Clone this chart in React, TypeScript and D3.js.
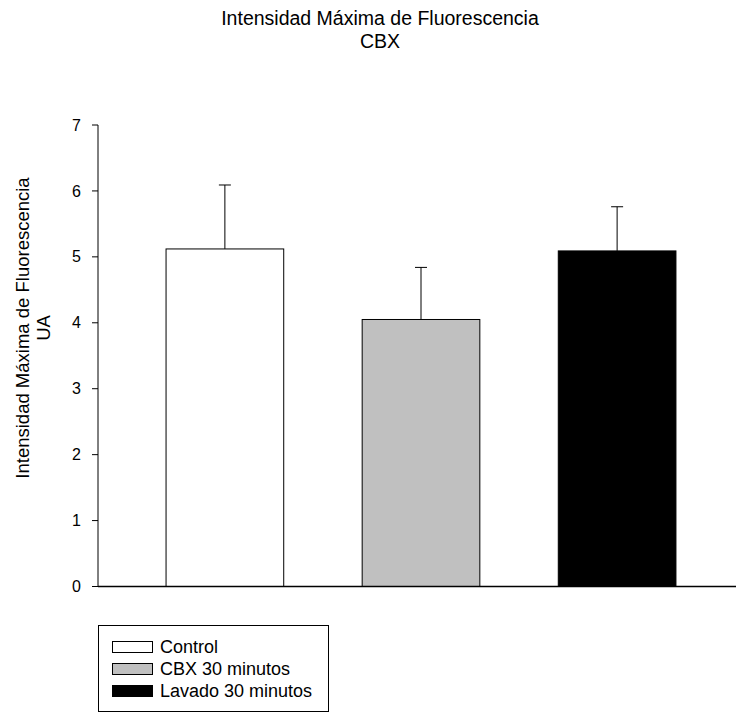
import * as d3 from "d3";

// ---------------------------------------------------------------------------
// Data
// ---------------------------------------------------------------------------

const CATEGORIES = ["Control", "CBX 30 minutos", "Lavado 30 minutos"];
const MEANS = [5.12, 4.05, 5.09];
const ERRORS = [0.97, 0.79, 0.67];
const FILLS = ["#ffffff", "#c0c0c0", "#000000"];
const Y_TICKS = [0, 1, 2, 3, 4, 5, 6, 7];

const TITLE = ["Intensidad Máxima de Fluorescencia", "CBX"];
const Y_LABEL = ["Intensidad Máxima de Fluorescencia", "UA"];

// ---------------------------------------------------------------------------
// Layout
// ---------------------------------------------------------------------------

const W = 736;
const H = 712;
const FONT = "'Liberation Sans', Arial, sans-serif";
const AXIS_X = 98;
const PLOT_RIGHT = 744; // axis runs off the page edge
const Y_TOP = 125;
const Y_BOTTOM = 586.5;

export default function App() {
  const x = d3
    .scaleBand<string>()
    .domain(CATEGORIES)
    .range([AXIS_X, PLOT_RIGHT])
    .paddingInner(0.4)
    .paddingOuter(0.347);

  const y = d3.scaleLinear().domain([0, 7]).range([Y_BOTTOM, Y_TOP]);
  const capW = 12;

  return (
    <>
      <style>{`body{margin:0}`}</style>
      <svg width={W} height={H} style={{ display: "block", background: "#fff" }}>
        {/* Title */}
        {TITLE.map((t, i) => (
          <text
            key={t}
            x={380}
            y={25 + i * 23}
            textAnchor="middle"
            fontSize={19.5}
            fontFamily={FONT}
            fill="#000"
          >
            {t}
          </text>
        ))}

        {/* Y axis label */}
        <g transform={`translate(0,328) rotate(-90)`}>
          {Y_LABEL.map((t, i) => (
            <text
              key={t}
              x={0}
              y={29 + i * 21}
              textAnchor="middle"
              fontSize={18.5}
              fontFamily={FONT}
              fill="#000"
            >
              {t}
            </text>
          ))}
        </g>

        {/* Bars with upper error bars */}
        {CATEGORIES.map((c, i) => {
          const bx = x(c) ?? 0;
          const bw = x.bandwidth();
          const top = y(MEANS[i]);
          const cx = bx + bw / 2;
          const errTop = y(MEANS[i] + ERRORS[i]);
          return (
            <g key={c}>
              <line x1={cx} x2={cx} y1={top} y2={errTop} stroke="#000" strokeWidth={1} />
              <line
                x1={cx - capW / 2}
                x2={cx + capW / 2}
                y1={errTop}
                y2={errTop}
                stroke="#000"
                strokeWidth={1}
              />
              <rect
                x={bx}
                y={top}
                width={bw}
                height={Y_BOTTOM - top}
                fill={FILLS[i]}
                stroke="#000"
                strokeWidth={1}
              />
            </g>
          );
        })}

        {/* Y axis */}
        <line x1={AXIS_X} x2={AXIS_X} y1={Y_TOP} y2={Y_BOTTOM} stroke="#000" strokeWidth={1} />
        {Y_TICKS.map((t) => (
          <g key={t}>
            <line
              x1={AXIS_X - 6}
              x2={AXIS_X}
              y1={y(t)}
              y2={y(t)}
              stroke="#000"
              strokeWidth={1}
            />
            <text
              x={81}
              y={y(t)}
              dy="0.35em"
              textAnchor="end"
              fontSize={16}
              fontFamily={FONT}
              fill="#000"
            >
              {t}
            </text>
          </g>
        ))}

        {/* X axis */}
        <line x1={AXIS_X} x2={W} y1={Y_BOTTOM} y2={Y_BOTTOM} stroke="#000" strokeWidth={1.5} />

        {/* Legend */}
        <rect x={98.5} y={625.5} width={230} height={86} fill="none" stroke="#000" strokeWidth={1} />
        {CATEGORIES.map((c, i) => {
          const cy = 647 + i * 22;
          return (
            <g key={c}>
              <rect
                x={112.5}
                y={cy - 5.5}
                width={40}
                height={11}
                fill={FILLS[i]}
                stroke="#000"
                strokeWidth={1}
              />
              <text
                x={160}
                y={cy}
                dy="0.36em"
                fontSize={18}
                fontFamily={FONT}
                fill="#000"
              >
                {c}
              </text>
            </g>
          );
        })}
      </svg>
    </>
  );
}
